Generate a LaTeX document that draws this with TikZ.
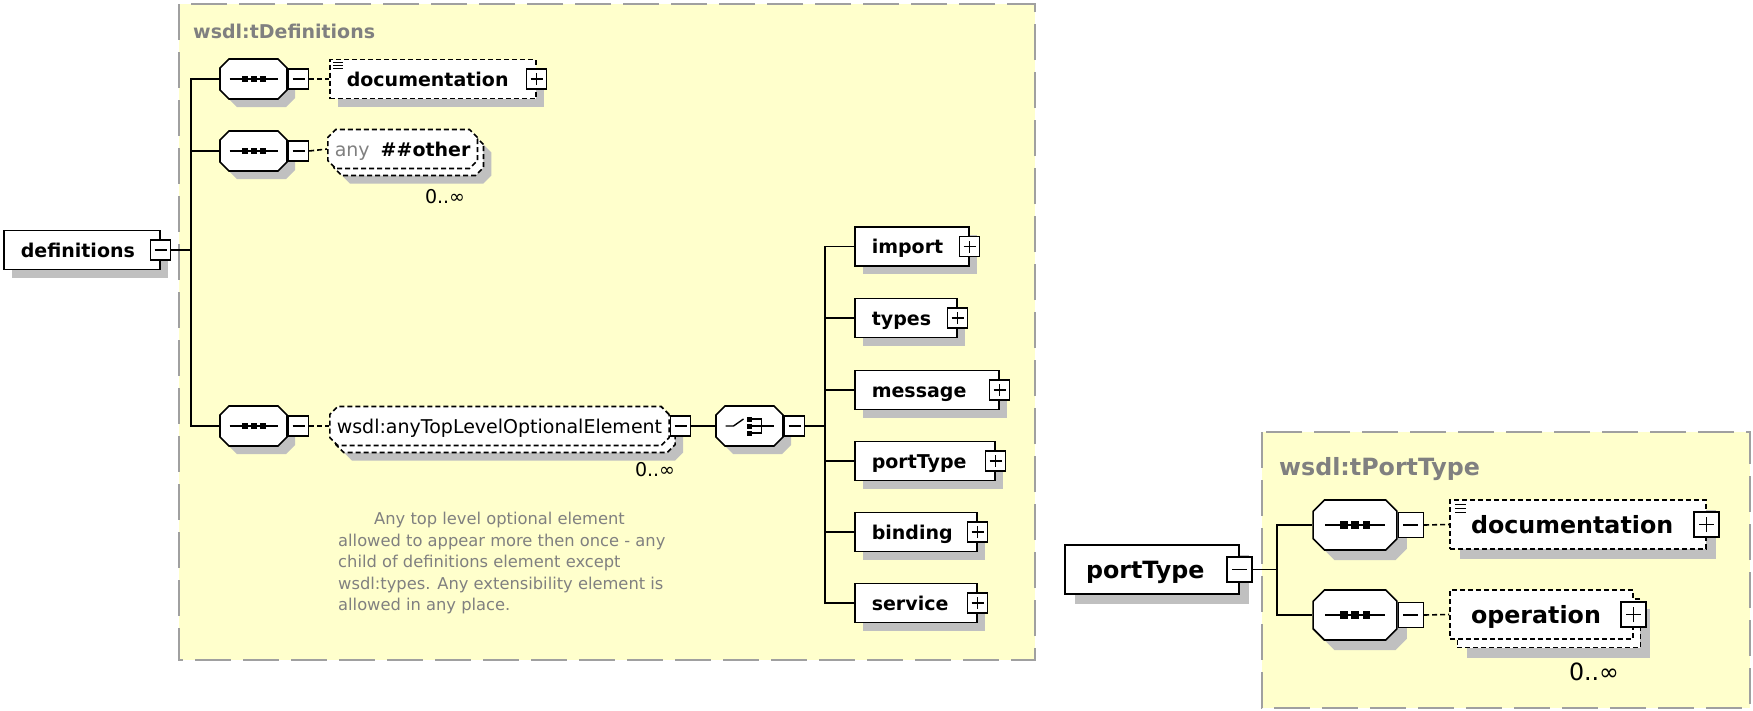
\documentclass[tikz,border=0pt]{standalone}
\usepackage{fontspec}
\setmainfont{DejaVu Sans}
\usetikzlibrary{shapes.misc}

\definecolor{boxyellow}{RGB}{255,255,204}
\definecolor{boxframe}{RGB}{160,160,160}
\definecolor{labelgrey}{RGB}{128,128,128}
\definecolor{shadowgrey}{RGB}{192,192,192}

% scale, font size and shadow offset of a diagram
\newcommand{\dgs}{1}
\newcommand{\dgfs}{19}
\newcommand{\dgsh}{8}

\tikzset{
  conn/.style={line width=1.6pt},
  opt/.style={conn, dash pattern=on 5pt off 3pt},
  shad/.style={preaction={draw=none, fill=shadowgrey,
      transform canvas={shift={(\dgsh pt,-\dgsh pt)}}}},
  stack/.style={preaction={draw=none, fill=shadowgrey,
      transform canvas={shift={(\dgsh pt+6*\dgs pt,-\dgsh pt-7*\dgs pt)}}},
    preaction={draw=black, fill=white, line width=1.6pt, dash pattern=on 5pt off 3pt,
      transform canvas={shift={(6*\dgs pt,-7*\dgs pt)}}}},
  frame/.style={draw=boxframe, fill=boxyellow, line width=2pt,
      dash pattern=on 36pt off 12pt},
  title/.style={anchor=base west, inner sep=0pt, text=labelgrey,
      font=\fontsize{\dgfs}{\dgfs}\selectfont\bfseries},
  elbox/.style={draw, line width=1.6pt, fill=white, anchor=west,
      minimum height=39*\dgs pt, inner ysep=0pt, inner xsep=17*\dgs pt,
      text width=#1 pt-34*\dgs pt, align=left,
      text height=15*\dgs pt, text depth=1*\dgs pt,
      font=\fontsize{\dgfs}{\dgfs}\selectfont\bfseries},
  elem/.style={elbox=#1, shad},
  optelem/.style={elbox=#1, shad, dash pattern=on 5pt off 3pt},
  multelem/.style={elbox=#1, stack, dash pattern=on 5pt off 3pt},
  wild/.style={chamfered rectangle, chamfered rectangle xsep=4pt,
      chamfered rectangle ysep=4pt,
      draw, line width=1.6pt, fill=white, stack, dash pattern=on 5pt off 3pt,
      anchor=west, minimum height=39pt,
      inner xsep=3pt, inner ysep=0pt, text height=15pt, text depth=1pt,
      font=\fontsize{\dgfs}{\dgfs}\selectfont},
  pm/.style={draw, line width=1.4pt, fill=white, minimum size=20*\dgs pt, inner sep=0pt},
  minus/.style={pm, path picture={
      \draw[line width=1.4pt] ([xshift=-6*\dgs pt]path picture bounding box.center)
        -- ([xshift=6*\dgs pt]path picture bounding box.center);}},
  plus/.style={pm, path picture={
      \draw[line width=1.4pt] ([xshift=-6*\dgs pt]path picture bounding box.center)
        -- ([xshift=6*\dgs pt]path picture bounding box.center);
      \draw[line width=1.4pt] ([yshift=-6*\dgs pt]path picture bounding box.center)
        -- ([yshift=6*\dgs pt]path picture bounding box.center);}},
  comp/.style={chamfered rectangle, chamfered rectangle xsep=4.5*\dgs pt,
      chamfered rectangle ysep=4.5*\dgs pt,
      draw, line width=1.6pt, fill=white, shad,
      inner xsep=29*\dgs pt, inner ysep=15.5*\dgs pt},
  seq/.style={comp, path picture={
      \draw[line width=1.4pt] ([xshift=-24*\dgs pt]path picture bounding box.center)
        -- ([xshift=24*\dgs pt]path picture bounding box.center);
      \foreach \d in {-9,0,9}
        \fill[black] ([xshift=\d*\dgs pt]path picture bounding box.center)
          +(-3*\dgs pt,-3*\dgs pt) rectangle +(3*\dgs pt,3*\dgs pt);}},
  choice/.style={comp, path picture={
      \coordinate (cc) at (path picture bounding box.center);
      \draw[line width=1.4pt] ([xshift=-24pt]cc) -- ([xshift=-16pt]cc) -- ([shift={(-6pt,7pt)}]cc);
      \foreach \d in {-7,0,7}
        \fill[black] ([yshift=\d pt]cc) +(-2.5pt,-2.5pt) rectangle +(2.5pt,2.5pt);
      \draw[line width=1.4pt] ([yshift=7pt]cc) -- ([shift={(12pt,7pt)}]cc)
        -- ([shift={(12pt,-7pt)}]cc) -- ([yshift=-7pt]cc);
      \draw[line width=1.4pt] (cc) -- ([xshift=24pt]cc);}},
  mult/.style={inner sep=0pt, font=\fontsize{\dgfs}{\dgfs}\selectfont},
  note/.style={anchor=north west, inner sep=0pt, align=left, text=labelgrey,
      font=\fontsize{16.3}{21.5}\selectfont}
}

\begin{document}
\begin{tikzpicture}[x=1pt,y=-1pt]
\useasboundingbox (0,0) rectangle (1753,710);

% wsdl:tDefinitions
\draw[frame] (179,4) rectangle (1035,660);
\node[title] (tdef) at (193,38) {wsdl:tDefinitions};

\node[elem=156] (defs) at (3,250) {definitions};
\node[minus] (defsm) at (defs.east) {};
\coordinate (bus1) at (191,250);
\draw[conn] (defsm.east) -- (bus1);

\node[seq] (seq1) at (253.5,79) {};
\node[minus, anchor=west] (seq1m) at (seq1.east) {};
\node[seq] (seq2) at (253.5,151) {};
\node[minus, anchor=west] (seq2m) at (seq2.east) {};
\node[seq] (seq3) at (253.5,426) {};
\node[minus, anchor=west] (seq3m) at (seq3.east) {};
\draw[conn] (bus1) |- (seq1.west);
\draw[conn] (bus1) |- (seq2.west);
\draw[conn] (bus1) |- (seq3.west);

\node[optelem=206] (doc1) at (329,79) {documentation};
\node[plus] (doc1p) at (doc1.east) {};
\foreach \k in {4,7,10}
  \draw[line width=1pt] ([shift={(4pt,-\k pt)}]doc1.north west) -- ++(10pt,0pt);
\draw[opt] (seq1m.east) -- (doc1.west);

\node[wild] (any1) at (327,149) {{\color{labelgrey}any}\hspace{11pt}\textbf{\#\#other}};
\node[mult] (any1n) at (445,197) {0..∞};
\draw[opt] (seq2m.east) -- (any1.west);

\node[wild] (anytop) at (329,426) {wsdl:anyTopLevelOptionalElement};
\node[minus, anchor=west] (anytopm) at (anytop.east) {};
\node[mult] (anytopn) at (655,470) {0..∞};
\draw[opt] (seq3m.east) -- (anytop.west);

\node[note] (topnote) at (338,512) {\hspace*{36pt}Any top level optional element\\
  allowed to appear more then once - any\\
  child of definitions element except\\
  wsdl:types. Any extensibility element is\\
  allowed in any place.};

\node[choice] (ch) at (749.5,426) {};
\node[minus, anchor=west] (chm) at (ch.east) {};
\draw[conn] (anytopm.east) -- (ch.west);
\coordinate (bus2) at (825,426);
\draw[conn] (chm.east) -- (bus2);

\node[elem=114] (import) at (854,246.5) {import};
\node[plus] (importp) at (import.east) {};
\node[elem=102] (types) at (854,318) {types};
\node[plus] (typesp) at (types.east) {};
\node[elem=144] (message) at (854,390) {message};
\node[plus] (messagep) at (message.east) {};
\node[elem=140] (porttype) at (854,461) {portType};
\node[plus] (porttypep) at (porttype.east) {};
\node[elem=122] (binding) at (854,532) {binding};
\node[plus] (bindingp) at (binding.east) {};
\node[elem=122] (service) at (854,603) {service};
\node[plus] (servicep) at (service.east) {};
\draw[conn] (bus2) |- (import.west);
\draw[conn] (bus2) |- (types.west);
\draw[conn] (bus2) |- (message.west);
\draw[conn] (bus2) |- (porttype.west);
\draw[conn] (bus2) |- (binding.west);
\draw[conn] (bus2) |- (service.west);

% wsdl:tPortType
\begin{scope}
\renewcommand{\dgs}{1.25}
\renewcommand{\dgfs}{23.75}
\renewcommand{\dgsh}{10}
\draw[frame] (1262,432) rectangle (1750,708);
\node[title] (tport) at (1279,475) {wsdl:tPortType};

\node[elem=174] (ptype) at (1064,569.5) {portType};
\node[minus] (ptypem) at (ptype.east) {};
\coordinate (bus3) at (1277,569.5);
\draw[conn] (ptypem.east) -- (bus3);

\node[seq] (seqa) at (1355,525) {};
\node[minus, anchor=west] (seqam) at (seqa.east) {};
\node[seq] (seqb) at (1355,615) {};
\node[minus, anchor=west] (seqbm) at (seqb.east) {};
\draw[conn] (bus3) |- (seqa.west);
\draw[conn] (bus3) |- (seqb.west);

\node[optelem=256] (doc2) at (1449,524.5) {documentation};
\node[plus] (doc2p) at (doc2.east) {};
\foreach \k in {5,9,13}
  \draw[line width=1.2pt] ([shift={(6pt,-\k pt)}]doc2.north west) -- ++(11pt,0pt);
\draw[opt] (seqam.east) -- (doc2.west);

\node[multelem=183] (oper) at (1449,614.5) {operation};
\node[plus] (operp) at (oper.east) {};
\node[mult] (opern) at (1594,672) {0..∞};
\draw[opt] (seqbm.east) -- (oper.west);
\end{scope}
\end{tikzpicture}
\end{document}
